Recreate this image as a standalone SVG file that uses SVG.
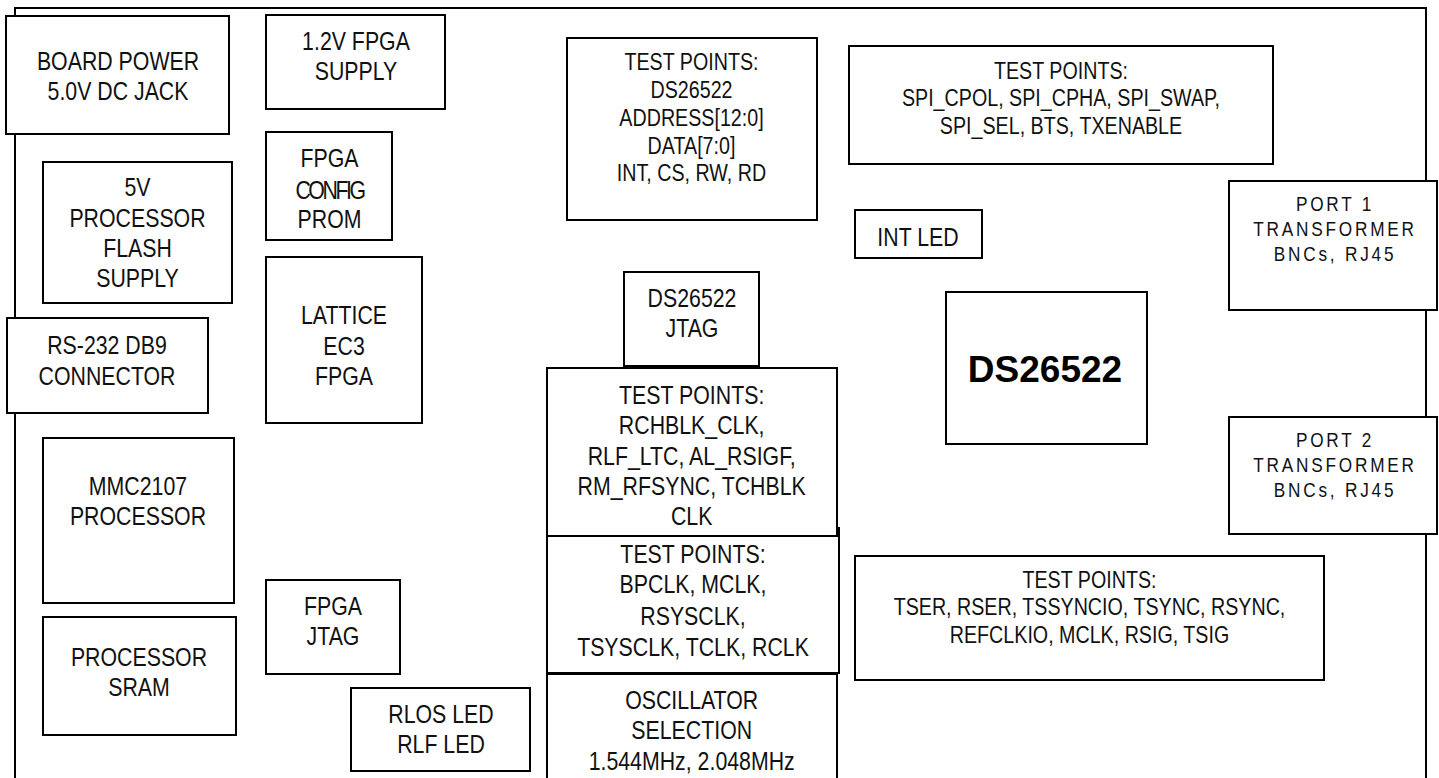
<svg xmlns="http://www.w3.org/2000/svg" width="1439" height="778" viewBox="0 0 1439 778">
<style>
.b{fill:#fff;stroke:#000;stroke-width:2}
.o{fill:none;stroke:#000;stroke-width:2}
text{font-family:"Liberation Sans",Arial,sans-serif;font-size:26px;fill:#111;text-anchor:middle}
.s{font-size:24px}
.p{font-size:21px;letter-spacing:3.4px}
.big{font-weight:bold;font-size:37px;fill:#000}
</style>
<rect width="1439" height="778" fill="#fff"/>
<g id="board"><path class="o" d="M15,778 V8 H1426 V778"/></g>
<g id="power"><rect class="b" x="6" y="16" width="223" height="118"/><text transform="matrix(.82,0,0,1,118,0)"><tspan x="0" y="70">BOARD POWER</tspan><tspan x="0" y="100.5">5.0V DC JACK</tspan></text></g>
<g id="fpga12"><rect class="b" x="266" y="15" width="179" height="94"/><text transform="matrix(.82,0,0,1,356,0)"><tspan x="0" y="50">1.2V FPGA</tspan><tspan x="0" y="80">SUPPLY</tspan></text></g>
<g id="flash5v"><rect class="b" x="43" y="162" width="189" height="141"/><text transform="matrix(.82,0,0,1,137.5,0)"><tspan x="0" y="196">5V</tspan><tspan x="0" y="227.5">PROCESSOR</tspan><tspan x="0" y="257.5">FLASH</tspan><tspan x="0" y="287.5">SUPPLY</tspan></text></g>
<g id="prom"><rect class="b" x="266" y="132" width="126" height="108"/><text transform="matrix(.82,0,0,1,329.5,0)"><tspan x="0" y="167.5">FPGA</tspan><tspan x="0" y="199" letter-spacing="-3">CONFIG</tspan><tspan x="0" y="228.5">PROM</tspan></text></g>
<g id="fpga"><rect class="b" x="266" y="257" width="156" height="166"/><text transform="matrix(.82,0,0,1,344,0)"><tspan x="0" y="324">LATTICE</tspan><tspan x="0" y="355">EC3</tspan><tspan x="0" y="385">FPGA</tspan></text></g>
<g id="rs232"><rect class="b" x="7" y="318" width="201" height="95"/><text transform="matrix(.82,0,0,1,107,0)"><tspan x="0" y="354">RS-232 DB9</tspan><tspan x="0" y="385">CONNECTOR</tspan></text></g>
<g id="mmc"><rect class="b" x="43" y="438" width="191" height="165"/><text transform="matrix(.82,0,0,1,138,0)"><tspan x="0" y="495">MMC2107</tspan><tspan x="0" y="525.5">PROCESSOR</tspan></text></g>
<g id="sram"><rect class="b" x="43" y="617" width="193" height="118"/><text transform="matrix(.82,0,0,1,139,0)"><tspan x="0" y="666">PROCESSOR</tspan><tspan x="0" y="696.5">SRAM</tspan></text></g>
<g id="fpgajtag"><rect class="b" x="266" y="580" width="134" height="94"/><text transform="matrix(.82,0,0,1,333,0)"><tspan x="0" y="615">FPGA</tspan><tspan x="0" y="645.5">JTAG</tspan></text></g>
<g id="rlos"><rect class="b" x="351" y="688" width="179" height="83"/><text transform="matrix(.82,0,0,1,441,0)"><tspan x="0" y="723">RLOS LED</tspan><tspan x="0" y="753">RLF LED</tspan></text></g>
<g id="tp_addr"><rect class="b" x="567" y="38" width="250" height="182"/><text class="s" transform="matrix(.82,0,0,1,691.5,0)"><tspan x="0" y="70.5">TEST POINTS:</tspan><tspan x="0" y="98.3">DS26522</tspan><tspan x="0" y="126">ADDRESS[12:0]</tspan><tspan x="0" y="154">DATA[7:0]</tspan><tspan x="0" y="181">INT, CS, RW, RD</tspan></text></g>
<g id="tp_spi"><rect class="b" x="849" y="46" width="424" height="118"/><text class="s" transform="matrix(.82,0,0,1,1061,0)"><tspan x="0" y="79">TEST POINTS:</tspan><tspan x="0" y="106.5">SPI_CPOL, SPI_CPHA, SPI_SWAP,</tspan><tspan x="0" y="134">SPI_SEL, BTS, TXENABLE</tspan></text></g>
<g id="intled"><rect class="b" x="855" y="210" width="127" height="48"/><text transform="matrix(.82,0,0,1,918,0)"><tspan x="0" y="246">INT LED</tspan></text></g>
<g id="jtag"><rect class="b" x="624" y="272" width="135" height="94"/><text transform="matrix(.82,0,0,1,692,0)"><tspan x="0" y="307">DS26522</tspan><tspan x="0" y="337.3">JTAG</tspan></text></g>
<g id="ds26522"><rect class="b" x="946" y="292" width="201" height="152"/><text class="big"><tspan x="1045" y="381.5">DS26522</tspan></text></g>
<g id="port1"><rect class="b" x="1229" y="181" width="208" height="129"/><text class="p" transform="matrix(.82,0,0,1,1335,0)"><tspan x="0" y="211">PORT 1</tspan><tspan x="0" y="236">TRANSFORMER</tspan><tspan x="0" y="260.7">BNCs, RJ45</tspan></text></g>
<g id="port2"><rect class="b" x="1229" y="417" width="208" height="117"/><text class="p" transform="matrix(.82,0,0,1,1335,0)"><tspan x="0" y="446.7">PORT 2</tspan><tspan x="0" y="471.7">TRANSFORMER</tspan><tspan x="0" y="496.7">BNCs, RJ45</tspan></text></g>
<g id="tp_bp"><rect class="b" x="547" y="528" width="292" height="145"/><text transform="matrix(.82,0,0,1,693,0)"><tspan x="0" y="563.3">TEST POINTS:</tspan><tspan x="0" y="593.3">BPCLK, MCLK,</tspan><tspan x="0" y="625">RSYSCLK,</tspan><tspan x="0" y="656">TSYSCLK, TCLK, RCLK</tspan></text></g>
<g id="tp_chblk"><rect class="b" x="547" y="368" width="290" height="168"/><text transform="matrix(.82,0,0,1,691.7,0)"><tspan x="0" y="404">TEST POINTS:</tspan><tspan x="0" y="434">RCHBLK_CLK,</tspan><tspan x="0" y="465">RLF_LTC, AL_RSIGF,</tspan><tspan x="0" y="495">RM_RFSYNC, TCHBLK</tspan><tspan x="0" y="525">CLK</tspan></text></g>
<g id="osc"><rect class="b" x="547" y="674" width="290" height="110"/><text transform="matrix(.82,0,0,1,691.7,0)"><tspan x="0" y="709.3">OSCILLATOR</tspan><tspan x="0" y="739.3">SELECTION</tspan><tspan x="0" y="770">1.544MHz, 2.048MHz</tspan></text></g>
<g id="tp_tser"><rect class="b" x="855" y="556" width="469" height="124"/><text class="s" transform="matrix(.82,0,0,1,1089.5,0)"><tspan x="0" y="588.3">TEST POINTS:</tspan><tspan x="0" y="615">TSER, RSER, TSSYNCIO, TSYNC, RSYNC,</tspan><tspan x="0" y="643.3">REFCLKIO, MCLK, RSIG, TSIG</tspan></text></g>
<g id="connectors"></g>
</svg>
